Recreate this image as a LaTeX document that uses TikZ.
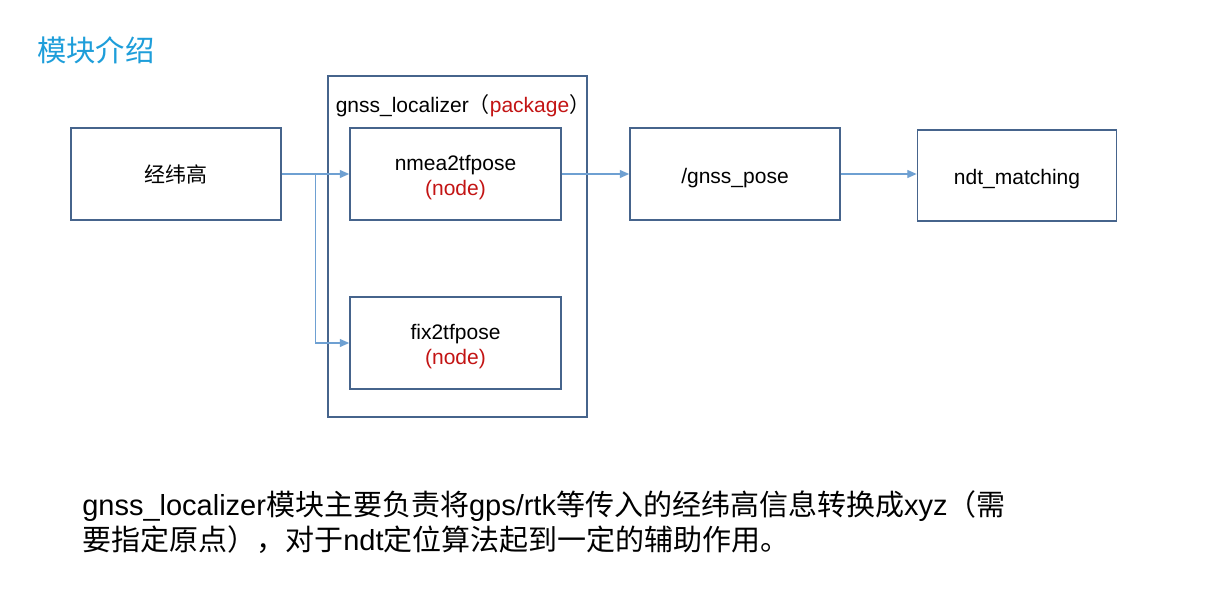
\documentclass[tikz,border=0pt]{standalone}
\usepackage{fontspec}
\setmainfont{Liberation Sans}
\newfontfamily\cjk{Noto Sans CJK SC}
\usetikzlibrary{arrows.meta,positioning}
\definecolor{boxc}{RGB}{70,100,140}
\definecolor{arrc}{RGB}{110,160,210}
\definecolor{redc}{RGB}{195,20,20}
\definecolor{titlec}{RGB}{30,158,218}
\newcommand\mydown{\rule{0pt}{17.5pt}}
\tikzset{
  box/.style={draw=boxc, line width=1.3pt, rectangle, inner sep=0pt, align=center,
    font=\fontsize{15.75pt}{18.75pt}\selectfont},
  arr/.style={draw=arrc, line width=0.8pt, -{Triangle[length=7pt,width=6pt]}},
  redt/.style={text=redc}
}
\begin{document}
\begin{tikzpicture}[x=0.75pt,y=-0.75pt]
\useasboundingbox[fill=white] (0,0) rectangle (1209,599);
% title
\node[anchor=west, text=titlec, font=\cjk\fontsize{22pt}{26pt}\selectfont, inner sep=0pt] (title) at (37,50) {模块介绍};
% package container
\node[box, minimum width=259*0.75pt, minimum height=341*0.75pt] (pkg) at (457.3,246.2) {};
\node[font=\fontsize{15.75pt}{18.75pt}\selectfont, inner sep=0pt] (pkglabel) at (463,105.5) {gnss\_localizer{\cjk （}\textcolor{redc}{package}{\cjk ）}};
% boxes
\node[box, minimum width=210*0.75pt, minimum height=92*0.75pt] (jwg) at (176,174) {{\cjk 经纬高}};
\node[box, minimum width=211*0.75pt, minimum height=92*0.75pt] (nmea) at (455.5,174) {\mydown nmea2tfpose\\\textcolor{redc}{(node)}};
\node[box, minimum width=211*0.75pt, minimum height=92*0.75pt] (fix) at (455.5,343) {\mydown fix2tfpose\\\textcolor{redc}{(node)}};
\node[box, minimum width=210*0.75pt, minimum height=92*0.75pt] (gp) at (735,174) {\mydown /gnss\_pose};
\node[box, minimum width=199*0.75pt, minimum height=91*0.75pt] (ndt) at (1017,175.5) {\mydown ndt\_matching};
% connectors
\coordinate (br) at (315.7,174);
\draw[arr] (jwg.east) -- (nmea.west);
\draw[arr] (br) |- (fix.west);
\draw[arr] (nmea.east) -- (gp.west);
\draw[arr] (gp.east) -- (gp.east -| ndt.west);
% bottom description
\node[anchor=base west, inner sep=0pt, font=\fontsize{21.75pt}{26.25pt}\selectfont] (desc1) at (82,515)
  {gnss\_localizer{\cjk 模块主要负责将}gps/rtk{\cjk 等传入的经纬高信息转换成}xyz{\cjk （需}};
\node[anchor=base west, inner sep=0pt, font=\fontsize{21.75pt}{26.25pt}\selectfont] (desc2) at (82,550)
  {{\cjk 要指定原点），对于}ndt{\cjk 定位算法起到一定的辅助作用。}};
\end{tikzpicture}
\end{document}
